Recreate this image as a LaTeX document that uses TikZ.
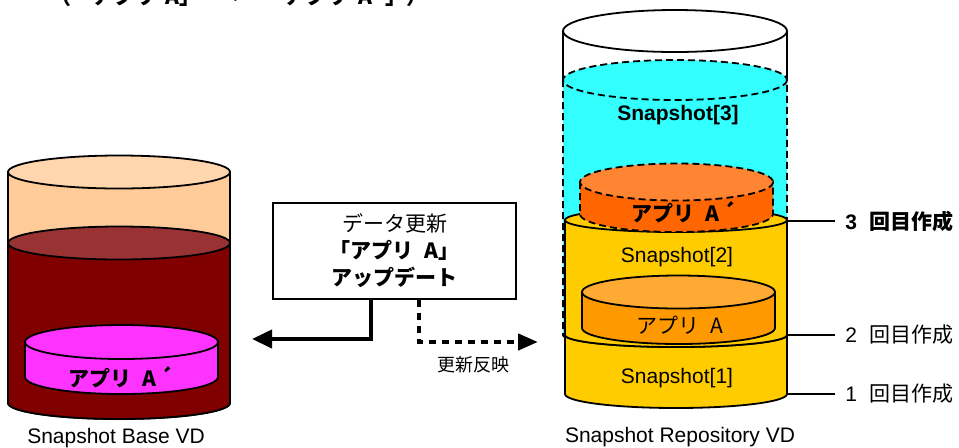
\documentclass[tikz,border=0pt]{standalone}
\usepackage{fontspec}
\setmainfont{Liberation Sans}
\newfontfamily\jp{Noto Sans CJK JP}
\usetikzlibrary{arrows.meta}

\definecolor{peach}{HTML}{FFCC99}
\definecolor{peachtop}{HTML}{FFD6AD}
\definecolor{dred}{HTML}{800000}
\definecolor{dredtop}{HTML}{993333}
\definecolor{magent}{HTML}{FF33FF}
\definecolor{cyanfill}{HTML}{33FFFF}
\definecolor{yel}{HTML}{FFCC00}
\definecolor{orng}{HTML}{FF6600}
\definecolor{orngtop}{HTML}{FF8533}
\definecolor{amber}{HTML}{FF9900}
\definecolor{ambertop}{HTML}{FFAA33}

\begin{document}
\begin{tikzpicture}[x=0.5pt,y=-0.5pt]
    \tikzstyle{every node}=[font=\fontsize{10.5}{13.5}\selectfont, inner sep=2pt]
    \tikzstyle{outline}=[line width=0.9pt]
    \tikzstyle{dashline}=[outline, dash pattern=on 3.5pt off 2pt]
    \tikzstyle{jpbold}=[font=\fontsize{10.5}{13.5}\selectfont\jp\bfseries]
    \tikzstyle{gen}=[anchor=west, inner xsep=5pt]
    \useasboundingbox (0,0) rectangle (959,447);
    \clip (0,0) rectangle (959,447);

    \node[jpbold, anchor=base west] (title) at (46,4) {（「アプリ\hspace{0.5em}A」　→　「アプリ\hspace{0.5em}A´」）};

    % Snapshot Base VD
    \filldraw[outline, fill=peach] (8,172) -- (8,403)
        arc[start angle=180, end angle=0, x radius=111, y radius=16] -- (230,172) -- cycle;
    \filldraw[outline, fill=dred] (8,243) -- (8,403)
        arc[start angle=180, end angle=0, x radius=111, y radius=16] -- (230,243) -- cycle;
    \filldraw[outline, fill=dredtop] (119,243) ellipse[x radius=111, y radius=16.5];
    \filldraw[outline, fill=peachtop] (119,172) ellipse[x radius=111, y radius=16.5];
    \filldraw[outline, fill=magent] (25,342) -- (25,377)
        arc[start angle=180, end angle=0, x radius=96.5, y radius=17] -- (218,342) -- cycle;
    \filldraw[outline, fill=magent] (121.5,342) ellipse[x radius=96.5, y radius=17];
    \node[jpbold] (appbase) at (121,377) {アプリ\hspace{0.5em}A\,´};
    \node (basevd) at (116,438) {Snapshot Base VD};

    % update box and arrows
    \node[draw, outline, minimum width=121.5pt, minimum height=48pt, align=center]
        (upd) at (394.5,251) {{\jp データ更新}\\{\jp\bfseries 「アプリ\hspace{0.5em}A」}\\{\jp\bfseries アップデート}};
    \coordinate (bend1) at (371,339);
    \coordinate (tobase) at (252,339);
    \draw[line width=2pt, -{Triangle[length=10pt,width=9pt]}] (upd.south -| bend1) -- (bend1) -- (tobase);
    \coordinate (bend2) at (419,342);
    \coordinate (torepo) at (538,342);
    \draw[line width=2.2pt, dash pattern=on 3.5pt off 3pt, -{Triangle[length=10pt,width=8pt]}]
        (upd.south -| bend2) -- (bend2) -- (torepo);
    \node[font=\fontsize{9}{11}\selectfont\jp] (sync) at (473,365) {更新反映};

    % Snapshot Repository VD
    \draw[outline] (563,31) -- (563,80);
    \draw[outline] (787,31) -- (787,80);
    \filldraw[outline, fill=white] (675,31) ellipse[x radius=112, y radius=21];
    \filldraw[dashline, fill=cyanfill] (563,80) -- (563,335)
        arc[start angle=180, end angle=0, x radius=112, y radius=12] -- (787,80) -- cycle;
    \filldraw[dashline, fill=cyanfill] (675,80) ellipse[x radius=112, y radius=20];
    \filldraw[outline, fill=yel] (565,335) -- (565,394)
        arc[start angle=180, end angle=0, x radius=111, y radius=14] -- (787,335) -- cycle;
    \filldraw[outline, fill=yel] (676,335) ellipse[x radius=111, y radius=12];
    \filldraw[outline, fill=yel] (565,220) -- (565,335)
        arc[start angle=180, end angle=0, x radius=111, y radius=12] -- (787,220) -- cycle;
    \filldraw[outline, fill=yel] (676,220) ellipse[x radius=111, y radius=12];
    \filldraw[dashline, fill=orng] (580,182) -- (580,214)
        arc[start angle=180, end angle=0, x radius=96.5, y radius=18] -- (773,182) -- cycle;
    \filldraw[dashline, fill=orngtop] (676.5,182) ellipse[x radius=96.5, y radius=18.5];
    \filldraw[outline, fill=amber] (582,292) -- (582,328)
        arc[start angle=180, end angle=0, x radius=96.5, y radius=16] -- (775,292) -- cycle;
    \filldraw[outline, fill=ambertop] (678.5,292) ellipse[x radius=96.5, y radius=16.5];

    \node[font=\fontsize{10.5}{13.5}\selectfont\bfseries] (snap3) at (678,115) {Snapshot[3]};
    \node[jpbold] (apprepo2) at (684,212) {アプリ\hspace{0.5em}A\,´};
    \node (snap2) at (677,257) {Snapshot[2]};
    \node[font=\fontsize{10.5}{13.5}\selectfont\jp] (apprepo) at (680,325) {アプリ\hspace{0.5em}A};
    \node (snap1) at (677,378) {Snapshot[1]};
    \node (repovd) at (680,437) {Snapshot Repository VD};

    % generations
    \coordinate (lv3) at (787,221);
    \coordinate (lv2) at (787,335);
    \coordinate (lv1) at (787,394);
    \node[gen, font=\fontsize{10.5}{13.5}\selectfont\bfseries] (gen3) at (835,221) {3\hspace{0.6em}{\jp 回目作成}};
    \node[gen] (gen2) at (835,335) {2\hspace{0.6em}{\jp 回目作成}};
    \node[gen] (gen1) at (835,394) {1\hspace{0.6em}{\jp 回目作成}};
    \draw[outline] (lv3) -- (gen3.west);
    \draw[outline] (lv2) -- (gen2.west);
    \draw[outline] (lv1) -- (gen1.west);

\end{tikzpicture}
\end{document}
